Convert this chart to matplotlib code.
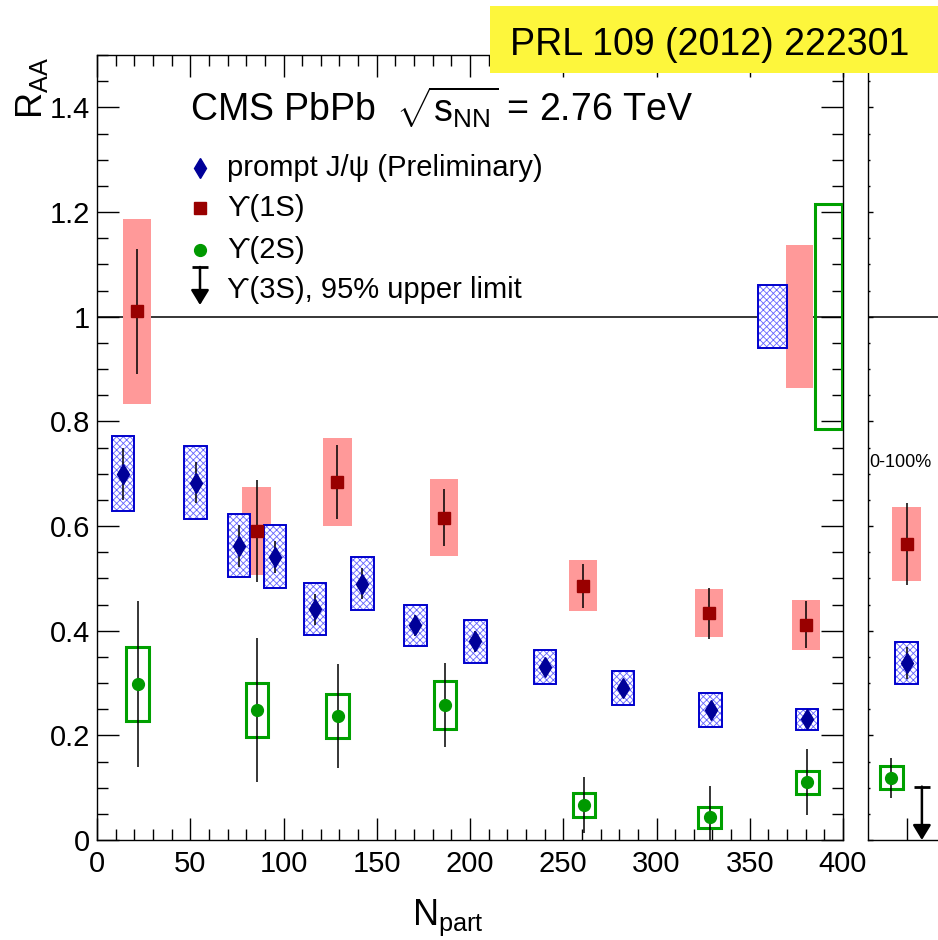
import matplotlib
matplotlib.use("Agg")
import matplotlib.pyplot as plt
from matplotlib.patches import Rectangle
from matplotlib.ticker import MultipleLocator
import numpy as np

plt.rcParams['font.family'] = ['Liberation Sans', 'DejaVu Sans']
plt.rcParams['mathtext.fontset'] = 'custom'
plt.rcParams['mathtext.rm'] = 'Liberation Sans'
plt.rcParams['mathtext.it'] = 'Liberation Sans:italic'
plt.rcParams['hatch.linewidth'] = 0.6

# ---------------- data ----------------
npart_jpsi = [13.8, 52.9, 76.3, 95.4, 117.0, 142.3, 170.7, 202.9, 240.2, 282.2, 329.0, 380.7]
raa_jpsi = [0.700, 0.683, 0.562, 0.541, 0.441, 0.490, 0.410, 0.380, 0.331, 0.290, 0.248, 0.231]
stat_jpsi = [0.050, 0.040, 0.040, 0.030, 0.030, 0.030, 0.020, 0.020, 0.015, 0.015, 0.015, 0.010]
syst_jpsi = [0.072, 0.070, 0.060, 0.060, 0.050, 0.050, 0.040, 0.041, 0.032, 0.032, 0.032, 0.020]

npart_1s = [21.3, 85.6, 128.9, 186.0, 260.6, 328.3, 380.3]
raa_1s = [1.010, 0.590, 0.684, 0.616, 0.486, 0.433, 0.411]
stat_1s = [0.120, 0.097, 0.070, 0.054, 0.042, 0.049, 0.045]
syst_1s = [0.176, 0.084, 0.084, 0.074, 0.049, 0.046, 0.047]

npart_2s = [21.8, 85.8, 129.0, 186.6, 261.1, 328.5, 380.9]
raa_2s = [0.298, 0.248, 0.237, 0.258, 0.067, 0.043, 0.110]
stat_2s = [0.158, 0.138, 0.100, 0.080, 0.053, 0.061, 0.063]
syst_2s = [0.070, 0.052, 0.042, 0.045, 0.023, 0.021, 0.022]

# global (normalisation) uncertainties, drawn at R_AA = 1
glob_jpsi, glob_1s, glob_2s = 0.060, 0.136, 0.215

# minimum bias (0-100%)
mb_jpsi, mb_jpsi_stat, mb_jpsi_syst = 0.338, 0.030, 0.040
mb_1s, mb_1s_stat, mb_1s_syst = 0.566, 0.078, 0.071
mb_2s, mb_2s_stat, mb_2s_syst = 0.119, 0.038, 0.022
mb_3s_limit = 0.102

xticks = [0, 50, 100, 150, 200, 250, 300, 350, 400]
yticks = [0, 0.2, 0.4, 0.6, 0.8, 1.0, 1.2, 1.4]
ytick_labels = ['0', '0.2', '0.4', '0.6', '0.8', '1', '1.2', '1.4']

# ---------------- style ----------------
C_JPSI = '#000099'
C_JPSI_BOX = '#0000cc'
C_JPSI_HATCH = '#6666ff'
C_1S = '#990000'
C_1S_BOX = '#ff9999'
C_2S = '#009900'
C_2S_BOX = '#00a000'
MS_D, MS_S, MS_O = 10, 8.5, 8.5
ARROW = '-|>,head_length=0.9,head_width=0.55'

W, H = 938, 940
fig = plt.figure(figsize=(W / 100, H / 100), dpi=100)
ax = fig.add_axes([97 / W, 100 / H, 746 / W, 785 / H])
axr = fig.add_axes([868 / W, 100 / H, 77 / W, 785 / H])

PX2PT = 0.72

def jpsi_box(a, x, y, hw, hh):
    a.add_patch(Rectangle((x - hw, y - hh), 2 * hw, 2 * hh, facecolor='white',
                          edgecolor=C_JPSI_HATCH, lw=0, hatch='xxxxx', zorder=3))
    a.add_patch(Rectangle((x - hw, y - hh), 2 * hw, 2 * hh, fill=False,
                          edgecolor=C_JPSI_BOX, lw=1.4, zorder=3.1))

def ups1_box(a, x, y, hw, hh):
    a.add_patch(Rectangle((x - hw, y - hh), 2 * hw, 2 * hh, facecolor=C_1S_BOX,
                          edgecolor='none', lw=0, zorder=2))

def ups2_box(a, x, y, hw, hh):
    a.add_patch(Rectangle((x - hw, y - hh), 2 * hw, 2 * hh, fill=False,
                          edgecolor=C_2S_BOX, lw=2.2, zorder=3.2))

# ---- main panel ----
ax.set_xlim(0, 400)
ax.set_ylim(0, 1.5)
ax.axhline(1.0, color='black', lw=1.1, zorder=1)

for x, y, s in zip(npart_1s, raa_1s, syst_1s):
    ups1_box(ax, x, y, 7.6, s)
for x, y, s in zip(npart_jpsi, raa_jpsi, syst_jpsi):
    jpsi_box(ax, x, y, 6.0, s)
for x, y, s in zip(npart_2s, raa_2s, syst_2s):
    ups2_box(ax, x, y, 6.0, s)

# global boxes at 1
jpsi_box(ax, 362.2, 1.0, 7.6, glob_jpsi)
ups1_box(ax, 376.5, 1.0, 7.2, glob_1s)
ups2_box(ax, 392.0, 1.0, 7.2, glob_2s)

ebkw = dict(fmt='none', ecolor='black', elinewidth=1.1, capsize=0, zorder=5)
ax.errorbar(npart_jpsi, raa_jpsi, yerr=stat_jpsi, **ebkw)
ax.errorbar(npart_1s, raa_1s, yerr=stat_1s, **ebkw)
ax.errorbar(npart_2s, raa_2s, yerr=stat_2s, **ebkw)
ax.plot(npart_jpsi, raa_jpsi, ls='none', marker='d', ms=MS_D, color=C_JPSI, mec=C_JPSI, zorder=6)
ax.plot(npart_1s, raa_1s, ls='none', marker='s', ms=MS_S, color=C_1S, mec=C_1S, zorder=6)
ax.plot(npart_2s, raa_2s, ls='none', marker='o', ms=MS_O, color=C_2S, mec=C_2S, zorder=6)

ax.set_xticks(xticks)
ax.set_xticklabels([str(t) for t in xticks])
ax.set_yticks(yticks)
ax.set_yticklabels(ytick_labels)
ax.xaxis.set_minor_locator(MultipleLocator(10))
ax.yaxis.set_minor_locator(MultipleLocator(0.05))
ax.tick_params(which='both', direction='in', top=True, right=True, width=1.0,
               labelsize=21)
ax.tick_params(axis='x', pad=7)
ax.tick_params(axis='y', pad=5)
ax.tick_params(which='major', length=22 * PX2PT)
ax.tick_params(which='minor', length=11 * PX2PT)
for sp in ax.spines.values():
    sp.set_linewidth(1.0)

# ---- right panel (0-100%) ----
axr.set_xlim(0, 1)
axr.set_ylim(0, 1.5)
axr.axhline(1.0, color='black', lw=1.1, zorder=1)
ups1_box(axr, 0.5, mb_1s, 0.188, mb_1s_syst)
jpsi_box(axr, 0.5, mb_jpsi, 0.151, mb_jpsi_syst)
ups2_box(axr, 0.3, mb_2s, 0.150, mb_2s_syst)
axr.errorbar([0.5], [mb_1s], yerr=[mb_1s_stat], **ebkw)
axr.errorbar([0.5], [mb_jpsi], yerr=[mb_jpsi_stat], **ebkw)
axr.errorbar([0.3], [mb_2s], yerr=[mb_2s_stat], **ebkw)
axr.plot([0.5], [mb_jpsi], ls='none', marker='d', ms=MS_D, color=C_JPSI, zorder=6)
axr.plot([0.5], [mb_1s], ls='none', marker='s', ms=MS_S, color=C_1S, zorder=6)
axr.plot([0.3], [mb_2s], ls='none', marker='o', ms=MS_O, color=C_2S, zorder=6)
# upper limit arrow
axr.annotate('', xy=(0.7, 0.0), xytext=(0.7, mb_3s_limit),
             arrowprops=dict(arrowstyle=ARROW, color='black', lw=1.8,
                             shrinkA=0, shrinkB=0),
             zorder=6, annotation_clip=False)
axr.plot([0.7], [mb_3s_limit], marker='_', ms=12, mew=2.0, color='black', zorder=6)
axr.text(0.02, 0.722, '0-100%', fontsize=13, ha='left', va='center')

axr.set_xticks([0.5])
axr.set_xticklabels([])
axr.set_yticks(yticks)
axr.set_yticklabels([])
axr.yaxis.set_minor_locator(MultipleLocator(0.05))
axr.tick_params(axis='x', which='major', direction='in', length=22 * PX2PT, width=1.0)
axr.tick_params(axis='y', which='major', direction='in', length=5 * PX2PT, width=1.0)
axr.tick_params(axis='y', which='minor', direction='in', length=2.5 * PX2PT, width=1.0)
for sp in axr.spines.values():
    sp.set_linewidth(1.0)

# ---- axis titles ----
fig.text(448 / W, 1 - 925 / H, r'$\mathrm{N}_{\mathrm{part}}$', fontsize=26,
         ha='center', va='baseline')
fig.text(14 / W, 1 - 57 / H, r'$\mathrm{R}_{\mathrm{AA}}$', fontsize=26,
         rotation=90, ha='left', va='top')

# ---- header ----
ax.text((190 - 97) / 746, (840 - 122) / 785,
        r'CMS PbPb  $\sqrt{\mathrm{s}_{\mathrm{NN}}}$ = 2.76 TeV',
        transform=ax.transAxes, fontsize=27, ha='left', va='baseline')

# ---- legend (drawn by hand, ROOT style) ----
def fx(px):
    return (px - 97) / 746

def fy(py):
    return (840 - py) / 785

leg_rows = [
    ('d', C_JPSI, MS_D, 'prompt J/ψ (Preliminary)', 168),
    ('s', C_1S, MS_S, 'ϒ(1S)', 208),
    ('o', C_2S, MS_O, 'ϒ(2S)', 250),
]
for mk, col, ms, lab, py in leg_rows:
    ax.plot([fx(200)], [fy(py)], marker=mk, ms=ms, color=col, ls='none',
            transform=ax.transAxes, clip_on=False, zorder=7)
    ax.text(fx(227), fy(py), lab, transform=ax.transAxes, fontsize=21,
            ha='left', va='center')
ax.annotate('', xy=(fx(200), fy(305)), xytext=(fx(200), fy(267)),
            xycoords='axes fraction', textcoords='axes fraction',
            arrowprops=dict(arrowstyle=ARROW, color='black', lw=1.8,
                            shrinkA=0, shrinkB=0))
ax.plot([fx(200)], [fy(267)], marker='_', ms=12, mew=2.0, color='black',
        transform=ax.transAxes, clip_on=False)
ax.text(fx(227), fy(290), 'ϒ(3S), 95% upper limit', transform=ax.transAxes,
        fontsize=21, ha='left', va='center')

# ---- yellow reference box ----
fig.patches.append(Rectangle((490 / W, 1 - 73 / H), 460 / W, 67 / H,
                             transform=fig.transFigure, facecolor='#fdf63c',
                             edgecolor='none', zorder=10))
fig.text(510 / W, 1 - 55 / H, 'PRL 109 (2012) 222301', fontsize=27,
         ha='left', va='baseline', zorder=11)

fig.savefig('out.png', dpi=100)
